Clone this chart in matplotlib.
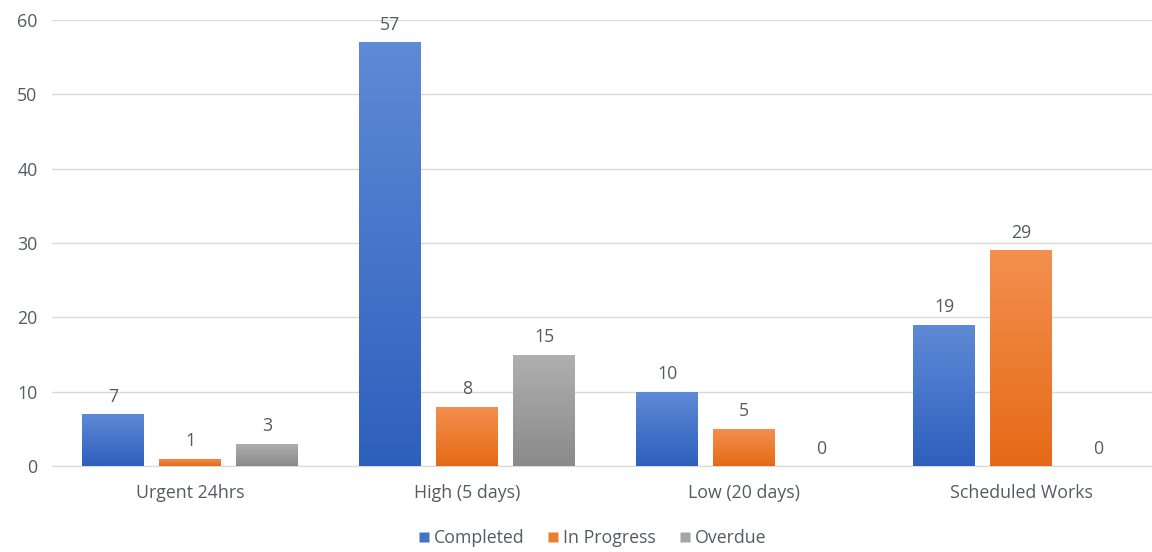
import numpy as np
import matplotlib
matplotlib.use("Agg")
import matplotlib.pyplot as plt
from matplotlib.colors import LinearSegmentedColormap
from matplotlib.lines import Line2D

categories = ["Urgent 24hrs", "High (5 days)", "Low (20 days)", "Scheduled Works"]
series_names = ["Completed", "In Progress", "Overdue"]
completed = [7, 57, 10, 19]
in_progress = [1, 8, 5, 29]
overdue = [3, 15, 0, 0]
y_ticks = [0, 10, 20, 30, 40, 50, 60]

series_values = [completed, in_progress, overdue]
top_colors = ["#5f8ad6", "#f3904f", "#b0b0b0"]
bottom_colors = ["#2d5fbd", "#e66a16", "#8a8a8a"]
solid_colors = ["#4472c4", "#ed7d31", "#a5a5a5"]
text_color = "#555a63"
font = ["Open Sans", "DejaVu Sans"]
plt.rcParams['font.family'] = font
fs = 12.8

W, H = 1152, 552
fig = plt.figure(figsize=(W / 100, H / 100), dpi=100)
ax = fig.add_axes([51.5 / W, 86 / H, 1108 / W, 446 / H])

x = np.arange(len(categories))
bw = 62 / 277
step = 77 / 277

for i, (vals, name) in enumerate(zip(series_values, series_names)):
    pos = x + (i - 1) * step
    bars = ax.bar(pos, vals, width=bw, color=solid_colors[i], zorder=2,
                  edgecolor="none", label=name)
    cmap = LinearSegmentedColormap.from_list(f"g{i}", [bottom_colors[i], top_colors[i]])
    for b, v in zip(bars, vals):
        if v > 0:
            x0, y0 = b.get_x(), b.get_y()
            w, h = b.get_width(), b.get_height()
            grad = np.linspace(0, 1, 256).reshape(-1, 1)
            im = ax.imshow(grad, extent=[x0, x0 + w, y0, y0 + h], origin="lower",
                           cmap=cmap, aspect="auto", zorder=3)
            im.set_clip_path(b)
        ax.annotate(str(v), (b.get_x() + b.get_width() / 2, v),
                    xytext=(0, 6), textcoords="offset points",
                    ha="center", va="bottom", fontsize=fs, color=text_color, zorder=4)

ax.set_xlim(-0.5, 3.5)
ax.set_ylim(0, 60)
ax.set_yticks(y_ticks)
ax.set_xticks(x)
ax.set_xticklabels(categories)
ax.tick_params(axis="both", length=0, labelsize=fs, labelcolor=text_color)
ax.tick_params(axis="x", pad=13)
ax.tick_params(axis="y", pad=10)
ax.grid(axis="y", color="#d9d9d9", linewidth=1, zorder=0)
ax.set_axisbelow(True)
for s in ["top", "right", "left"]:
    ax.spines[s].set_visible(False)
ax.spines["bottom"].set_color("#d9d9d9")

handles = [Line2D([0], [0], marker="s", linestyle="none", markersize=7.5,
                  markerfacecolor=c, markeredgecolor="none") for c in solid_colors]
fig.legend(handles, series_names, loc="center", bbox_to_anchor=(592 / W, 1 - 538 / H),
           ncol=3, frameon=False, fontsize=fs, labelcolor=text_color,
           handlelength=0.7, handletextpad=0.2, columnspacing=1.3)

fig.savefig("out.png", dpi=100)
